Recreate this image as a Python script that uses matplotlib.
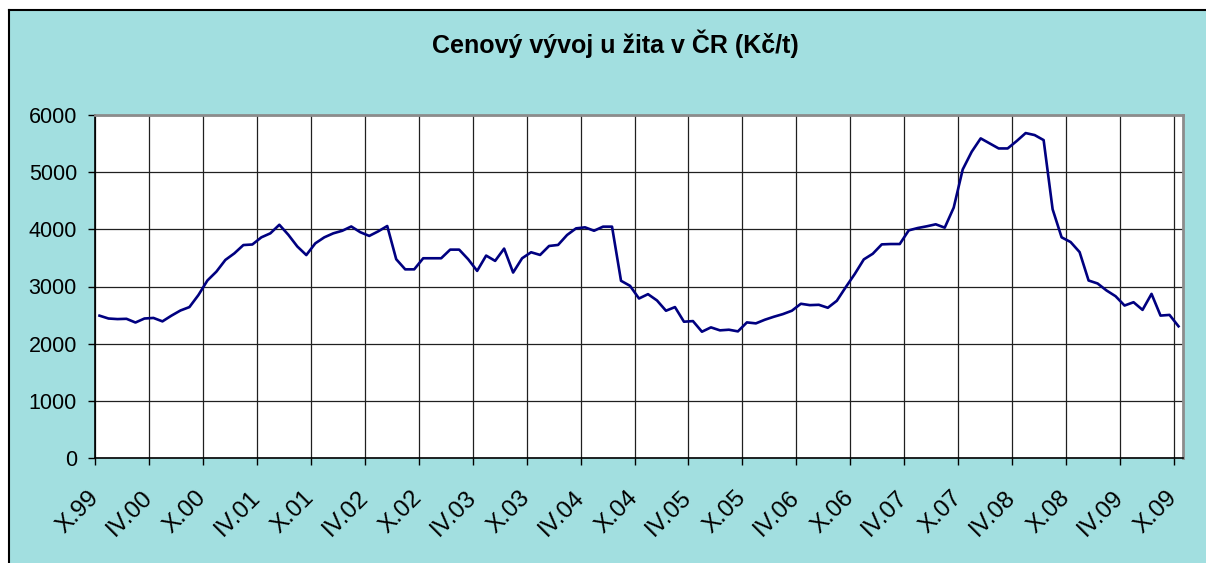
import matplotlib.pyplot as plt
from matplotlib.lines import Line2D
from matplotlib.patches import Rectangle

# monthly price of rye, Oct 1999 .. Oct 2009 (Kč/t)
prices = [
    2490, 2440, 2430, 2435, 2370, 2440, 2450, 2390, 2490, 2580,
    2640, 2850, 3105, 3260, 3465, 3580, 3725, 3735, 3860, 3930,
    4080, 3905, 3700, 3550, 3755, 3860, 3930, 3975, 4050, 3950,
    3885, 3965, 4058, 3477, 3300, 3300, 3494, 3494, 3494, 3645,
    3645, 3477, 3273, 3541, 3448, 3663, 3244, 3494, 3599, 3552,
    3709, 3727, 3901, 4017, 4035, 3975, 4047, 4047, 3100, 3012,
    2790, 2866, 2756, 2576, 2640, 2384, 2395, 2209, 2285, 2233,
    2244, 2215, 2372, 2355, 2419, 2471, 2517, 2576, 2698, 2674,
    2680, 2628, 2750, 2990, 3220, 3474, 3573, 3737, 3743, 3743,
    3982, 4023, 4053, 4088, 4029, 4380, 5047, 5357, 5591, 5503,
    5415, 5415, 5544, 5684, 5649, 5561, 4351, 3860, 3778, 3602,
    3105, 3053, 2930, 2830, 2667, 2725, 2591, 2871, 2491, 2503,
    2304,
]
tick_labels = ["X.99", "IV.00", "X.00", "IV.01", "X.01", "IV.02", "X.02",
               "IV.03", "X.03", "IV.04", "X.04", "IV.05", "X.05", "IV.06",
               "X.06", "IV.07", "X.07", "IV.08", "X.08", "IV.09", "X.09"]
title = "Cenový vývoj u žita v ČR (Kč/t)"

plt.rcParams['font.family'] = ['Liberation Sans', 'DejaVu Sans']
bg = '#a2dfe0'

fig = plt.figure(figsize=(12.06, 5.63), dpi=100, facecolor='white')
# chart area box, cut off on the right and bottom -> fill plus top/left edge only
x0, y1 = 9 / 1206, 1 - 10 / 563
fig.patches.append(Rectangle((x0, -0.05), 1.1, y1 + 0.05, transform=fig.transFigure,
                             facecolor=bg, edgecolor='none', linewidth=0, zorder=-5))
fig.lines.append(Line2D([x0, x0], [-0.05, y1], transform=fig.transFigure,
                        color='black', linewidth=1.5, zorder=-4))
fig.lines.append(Line2D([x0, 1.05], [y1, y1], transform=fig.transFigure,
                        color='black', linewidth=1.5, zorder=-4))

ax = fig.add_axes([95 / 1206, 1 - 458 / 563, (1183 - 95) / 1206, (458 - 115) / 563])
ax.set_facecolor('white')

# categories are one month wide, points sit in the middle
x = [i + 0.5 for i in range(len(prices))]
ax.plot(x, prices, color='#000080', linewidth=1.9, zorder=3)

ax.set_xlim(0, len(prices))
ax.set_ylim(0, 6000)
ax.set_yticks(range(0, 6001, 1000))
ax.set_xticks(range(0, len(prices), 6))
ax.set_xticklabels(tick_labels, rotation=45, ha='right', va='center',
                   rotation_mode='anchor')

ax.grid(True, color='#202020', linewidth=0.9)
ax.set_axisbelow(True)
ax.tick_params(axis='both', direction='out', length=5, width=1, colors='black')
ax.tick_params(axis='y', pad=8, labelsize=15.5)
ax.tick_params(axis='x', pad=21, labelsize=17.5)

for side in ['top', 'right']:
    ax.spines[side].set_color('#8c8c8c')
    ax.spines[side].set_linewidth(2)
for side in ['left', 'bottom']:
    ax.spines[side].set_color('black')
    ax.spines[side].set_linewidth(1.2)

fig.text(615 / 1206, 1 - 44 / 563, title, ha='center', va='center',
         fontsize=18, fontweight='bold')

fig.savefig('out.png', dpi=100, facecolor=fig.get_facecolor())
